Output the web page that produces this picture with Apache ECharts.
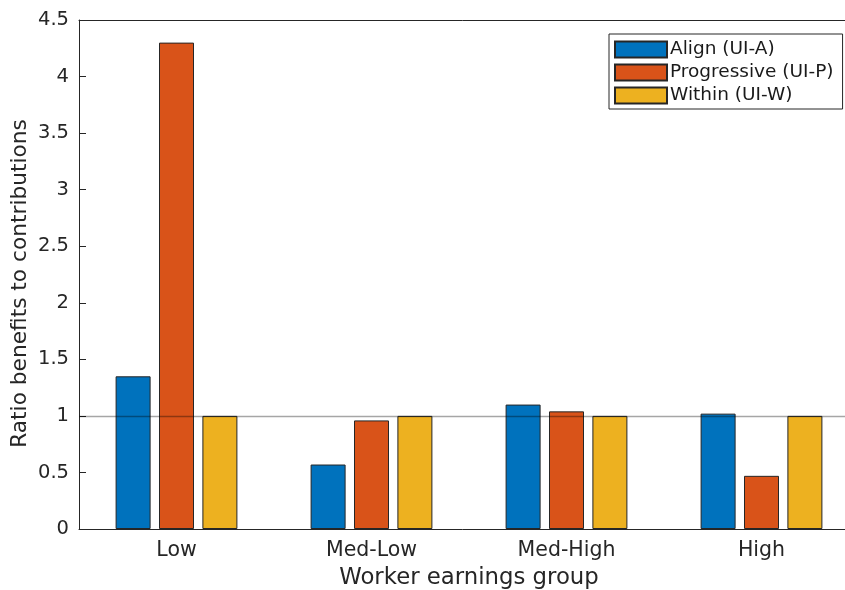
<!DOCTYPE html>
<html>
<head>
<meta charset="utf-8">
<script src="https://cdn.jsdelivr.net/npm/echarts@6/dist/echarts.min.js"></script>
<style>html,body{margin:0;padding:0;background:#fff;overflow:hidden;}#c{width:845px;height:590px;}</style>
</head>
<body>
<div id="c"></div>
<script>
const categories = ['Low', 'Med-Low', 'Med-High', 'High'];
const seriesNames = ['Align (UI-A)', 'Progressive (UI-P)', 'Within (UI-W)'];
const alignValues = [1.35, 0.57, 1.10, 1.02];
const progressiveValues = [4.30, 0.96, 1.04, 0.47];
const withinValues = [1.00, 1.00, 1.00, 1.00];
const yTicks = [0, 0.5, 1, 1.5, 2, 2.5, 3, 3.5, 4, 4.5];
const refValue = 1;

const colors = ['#0072BD', '#D95319', '#EDB120'];
const font = 'DejaVu Sans';
const axisColor = '#262626';

const chart = echarts.init(document.getElementById('c'));
const values = [alignValues, progressiveValues, withinValues];
const series = values.map((v, i) => ({
  name: seriesNames[i],
  type: 'bar',
  xAxisIndex: 0,
  data: v,
  barWidth: 35,
  barGap: '24%',
  itemStyle: { color: colors[i], borderColor: '#262626', borderWidth: 1 },
  emphasis: { disabled: true },
  markLine: i === 2 ? {
    silent: true,
    symbol: 'none',
    label: { show: false },
    lineStyle: { color: 'rgba(0,0,0,0.35)', width: 1.3, type: 'solid' },
    data: [{ yAxis: refValue }],
    z: 10
  } : undefined
}));

chart.setOption({
  animation: false,
  backgroundColor: '#fff',
  textStyle: { fontFamily: font },
  grid: { left: 79, top: 20, width: 780, height: 509, containLabel: false, outerBoundsMode: 'none' },
  legend: {
    orient: 'vertical',
    left: 609, top: 34,
    itemWidth: 52, itemHeight: 16, itemGap: 4,
    padding: [6, 9, 4, 5],
    borderColor: axisColor, borderWidth: 1,
    backgroundColor: '#fff',
    icon: 'rect',
    textStyle: { fontFamily: font, fontSize: 18.5, color: '#1a1a1a', padding: [0, 0, 0, -2] },
    data: seriesNames
  },
  xAxis: [{
    type: 'category',
    data: categories,
    position: 'bottom',
    name: 'Worker earnings group',
    nameLocation: 'middle',
    nameGap: 38,
    nameMoveOverlap: false,
    nameTextStyle: { fontFamily: font, fontSize: 22.8, color: axisColor, verticalAlign: 'top' },
    axisLine: { lineStyle: { color: axisColor, width: 1 } },
    axisTick: { inside: true, length: 7, alignWithLabel: true, lineStyle: { color: axisColor } },
    axisLabel: { fontFamily: font, fontSize: 20.5, color: axisColor, margin: 11 },
    splitLine: { show: false }
  }, {
    type: 'category',
    data: categories,
    position: 'top',
    axisLine: { show: true, lineStyle: { color: axisColor, width: 1 } },
    axisTick: { inside: true, length: 7, alignWithLabel: true, lineStyle: { color: axisColor } },
    axisLabel: { show: false },
    splitLine: { show: false }
  }],
  yAxis: {
    type: 'value',
    min: yTicks[0], max: yTicks[yTicks.length - 1], interval: 0.5,
    name: 'Ratio benefits to contributions',
    nameLocation: 'middle',
    nameGap: 48,
    nameMoveOverlap: false,
    nameTextStyle: { fontFamily: font, fontSize: 21.7, color: axisColor, padding: [0, 18, 0, 0] },
    axisLine: { show: true, lineStyle: { color: axisColor, width: 1 } },
    axisTick: { show: true, inside: true, length: 7, lineStyle: { color: axisColor } },
    axisLabel: { fontFamily: font, fontSize: 19.5, color: axisColor, margin: 10 },
    splitLine: { show: false }
  },
  series: series
});
</script>
</body>
</html>
